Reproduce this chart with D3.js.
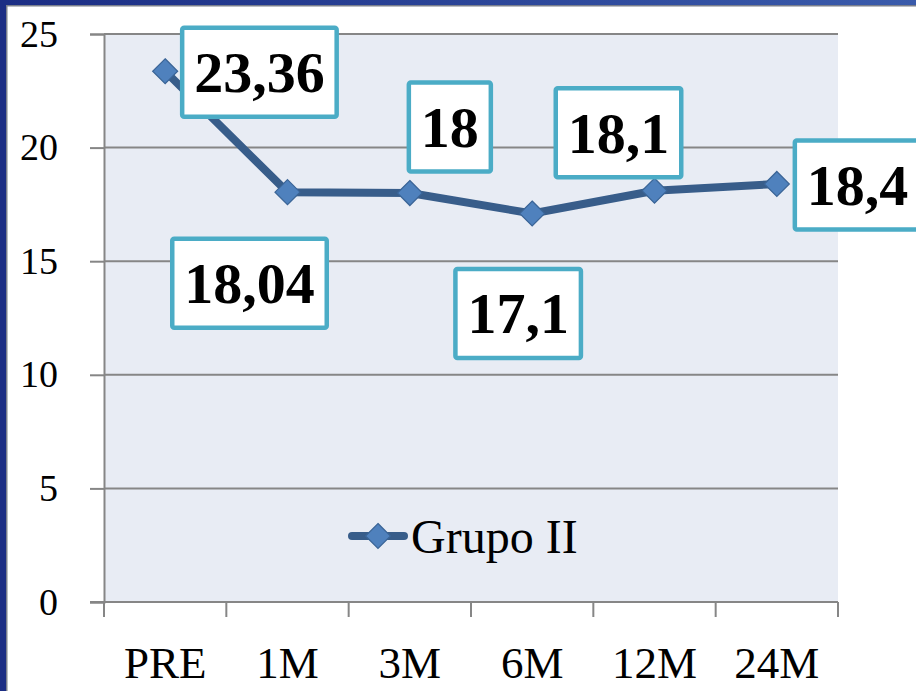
<!DOCTYPE html>
<html>
<head>
<meta charset="utf-8">
<script src="https://cdn.jsdelivr.net/npm/d3@7"></script>
<style>
  html, body { margin: 0; padding: 0; background: #ffffff; }
  svg { display: block; }
</style>
</head>
<body>
<svg id="chart" width="916" height="691"></svg>
<script>
// Series data
const categories = ["PRE", "1M", "3M", "6M", "12M", "24M"];
const grupoII = [23.36, 18.04, 18, 17.1, 18.1, 18.4];
const valueLabels = ["23,36", "18,04", "18", "17,1", "18,1", "18,4"];
const yTicks = [0, 5, 10, 15, 20, 25];
const seriesName = "Grupo II";

// Callout placement relative to each point (box centre, or left edge when anchor is "left")
const calloutLayout = [
  { dx: 17, dy: 1, anchor: "left" },
  { dx: -38, dy: 91, anchor: "center" },
  { dx: 40, dy: -66, anchor: "center" },
  { dx: -14, dy: 100, anchor: "center" },
  { dx: -36, dy: -58, anchor: "center" },
  { dx: 18, dy: 1, anchor: "left" }
];

const W = 916, H = 691;
const plot = { left: 104, right: 838, top: 34, bottom: 602 };

const svg = d3.select("#chart");

// Slide frame: navy bands on the top and left edges
const defs = svg.append("defs");
const grad = defs.append("linearGradient").attr("id", "topBand")
  .attr("x1", "0%").attr("x2", "100%");
grad.append("stop").attr("offset", "0%").attr("stop-color", "#1b2d84");
grad.append("stop").attr("offset", "100%").attr("stop-color", "#3a5bab");

svg.append("rect").attr("x", 0).attr("y", 0).attr("width", W).attr("height", H).attr("fill", "#ffffff");
svg.append("rect").attr("x", 0).attr("y", 0).attr("width", W).attr("height", 5).attr("fill", "url(#topBand)");
svg.append("rect").attr("x", 0).attr("y", 5).attr("width", W).attr("height", 1.5).attr("fill", "#7a7f8c");
svg.append("rect").attr("x", 0).attr("y", 0).attr("width", 6).attr("height", H).attr("fill", "#1b2d84");
svg.append("rect").attr("x", 6).attr("y", 5).attr("width", 1.5).attr("height", H).attr("fill", "#7a7f8c");

// Scales
const x = d3.scaleBand().domain(categories).range([plot.left, plot.right]).padding(0);
const y = d3.scaleLinear().domain([0, 25]).range([plot.bottom, plot.top]);
const cx = c => x(c) + x.bandwidth() / 2;

// Plot area background
svg.append("rect")
  .attr("x", plot.left).attr("y", plot.top)
  .attr("width", plot.right - plot.left).attr("height", plot.bottom - plot.top)
  .attr("fill", "#e8ecf4");

// Horizontal gridlines
svg.append("g").selectAll("line").data(yTicks.filter(t => t > 0)).join("line")
  .attr("x1", plot.left).attr("x2", plot.right)
  .attr("y1", d => y(d)).attr("y2", d => y(d))
  .attr("stroke", "#868686").attr("stroke-width", 2);

// Y axis
const yAxis = svg.append("g")
  .attr("transform", `translate(${plot.left},0)`)
  .call(d3.axisLeft(y).tickValues(yTicks).tickSize(14).tickPadding(32).tickFormat(d3.format("d")));
yAxis.select(".domain").attr("stroke", "#868686").attr("stroke-width", 2);
yAxis.selectAll(".tick line").attr("stroke", "#868686").attr("stroke-width", 2);
yAxis.selectAll(".tick text")
  .attr("font-family", "'Liberation Serif', serif")
  .attr("font-size", 38).attr("fill", "#000");

// X axis: labels centred in each category band, ticks on band edges
const xAxis = svg.append("g")
  .attr("transform", `translate(0,${plot.bottom})`)
  .call(d3.axisBottom(x).tickSize(0).tickPadding(44));
xAxis.select(".domain").remove();
xAxis.selectAll(".tick text")
  .attr("font-family", "'Liberation Serif', serif")
  .attr("font-size", 45).attr("fill", "#000");

const edges = categories.map(c => x(c)).concat([x.range()[1]]);
svg.append("g").selectAll("line").data(edges).join("line")
  .attr("x1", d => d).attr("x2", d => d)
  .attr("y1", plot.bottom).attr("y2", plot.bottom + 15)
  .attr("stroke", "#868686").attr("stroke-width", 2);
svg.append("line")
  .attr("x1", plot.left - 14).attr("x2", plot.right)
  .attr("y1", plot.bottom).attr("y2", plot.bottom)
  .attr("stroke", "#868686").attr("stroke-width", 2);

// Series line
const points = categories.map((c, i) => ({ c, v: grupoII[i], label: valueLabels[i], i }));
const line = d3.line().x(d => cx(d.c)).y(d => y(d.v));
svg.append("path").datum(points)
  .attr("d", line)
  .attr("fill", "none")
  .attr("stroke", "#385d8a")
  .attr("stroke-width", 8)
  .attr("stroke-linejoin", "round");

// Diamond markers
const diamond = r => `M0,${-r}L${r},0L0,${r}L${-r},0Z`;
svg.append("g").selectAll("path").data(points).join("path")
  .attr("transform", d => `translate(${cx(d.c)},${y(d.v)})`)
  .attr("d", diamond(12.5))
  .attr("fill", "#4f81bd")
  .attr("stroke", "#3a6496")
  .attr("stroke-width", 1.2);

// Legend
const lg = svg.append("g");
lg.append("line")
  .attr("x1", 352).attr("x2", 404).attr("y1", 536).attr("y2", 536)
  .attr("stroke", "#385d8a").attr("stroke-width", 8).attr("stroke-linecap", "round");
lg.append("path")
  .attr("transform", "translate(378,536)")
  .attr("d", diamond(12.5))
  .attr("fill", "#4f81bd").attr("stroke", "#3a6496").attr("stroke-width", 1.2);
lg.append("text")
  .attr("x", 411).attr("y", 553)
  .attr("font-family", "'Liberation Serif', serif")
  .attr("font-size", 48).attr("fill", "#000")
  .text(seriesName);

// Value callouts
const padX = 12, boxH = 89;
const callouts = svg.append("g");
points.forEach(d => {
  const lay = calloutLayout[d.i];
  const g = callouts.append("g");
  const rect = g.append("rect");
  const t = g.append("text")
    .attr("font-family", "'Liberation Serif', serif")
    .attr("font-weight", "bold")
    .attr("font-size", 58)
    .attr("fill", "#000")
    .attr("text-anchor", "middle")
    .text(d.label);
  const tw = t.node().getComputedTextLength();
  const bw = tw + 2 * padX;
  const px = cx(d.c), py = y(d.v);
  const centerX = lay.anchor === "left" ? px + lay.dx + bw / 2 : px + lay.dx;
  const centerY = py + lay.dy;
  rect.attr("x", centerX - bw / 2).attr("y", centerY - boxH / 2)
    .attr("width", bw).attr("height", boxH)
    .attr("rx", 2)
    .attr("fill", "#ffffff")
    .attr("stroke", "#4bacc6")
    .attr("stroke-width", 4.5);
  t.attr("x", centerX).attr("y", centerY + 20);
});
</script>
</body>
</html>
